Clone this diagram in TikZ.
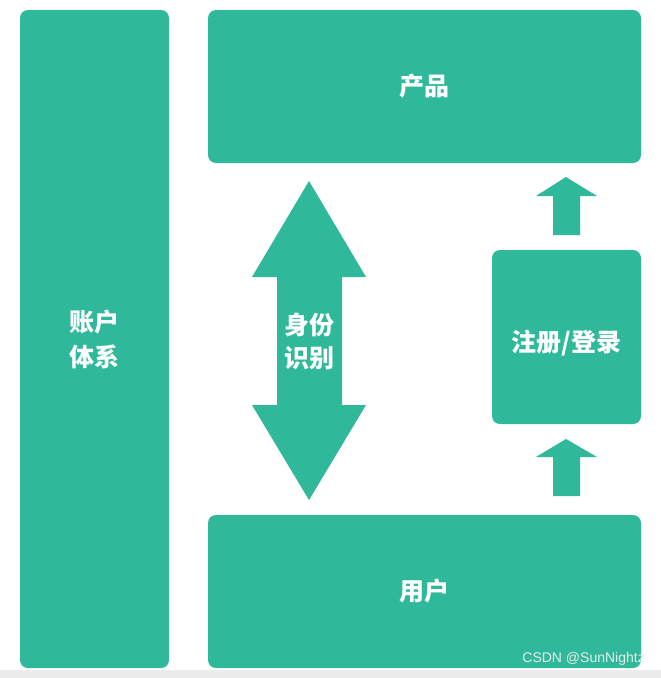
\documentclass[tikz,border=0pt]{standalone}
\usepackage{fontspec}
\newfontfamily\cjk{Noto Sans CJK SC}
\setsansfont{Liberation Sans}
\definecolor{teal}{RGB}{47,185,154}
\definecolor{markgray}{RGB}{235,235,235}
\definecolor{stripgray}{RGB}{236,236,236}
\tikzset{
  box/.style={fill=teal,rounded corners=8pt,inner sep=0pt,text=white,align=center,
    font=\cjk\bfseries\fontsize{25}{35}\selectfont},
  lbl/.style={text=white,align=center,inner sep=0pt,font=\cjk\bfseries\fontsize{25}{33}\selectfont},
  bigarrow/.style={fill=teal}
}
\begin{document}
\begin{tikzpicture}[x=1pt,y=-1pt]
\useasboundingbox (0,0) rectangle (661,678);
\fill[white](0,0) rectangle (661,678);
\fill[stripgray](0,670) rectangle (661,678);
\node[box,minimum width=149pt,minimum height=658pt](acct) at (94.5,339){账户\\体系};
\node[box,minimum width=433pt,minimum height=153pt](prod) at (424.5,86.5){产品};
\node[box,minimum width=433pt,minimum height=153pt](user) at (424.5,591.5){用户};
\node[box,minimum width=149pt,minimum height=174pt](reg) at (566.5,337){};
\node[lbl](regtext) at (566.5,343){注册/登录};
\fill[bigarrow](309,181)--(366,277)--(342,277)--(342,405)--(366,405)--(309,500)
  --(252,405)--(277,405)--(277,277)--(252,277)--cycle;
\node[lbl](ident) at (309,342){身份\\识别};
\fill[bigarrow](566,177)--(597,196)--(580,196)--(580,235)--(553,235)--(553,196)--(536,196)--cycle;
\fill[bigarrow](566,439)--(597,457)--(580,457)--(580,496)--(553,496)--(553,457)--(536,457)--cycle;
\node[text=markgray,font=\sffamily\fontsize{14}{14}\selectfont,anchor=east,inner sep=0pt](mark) at (645,659){CSDN @SunNightz};
\end{tikzpicture}
\end{document}
